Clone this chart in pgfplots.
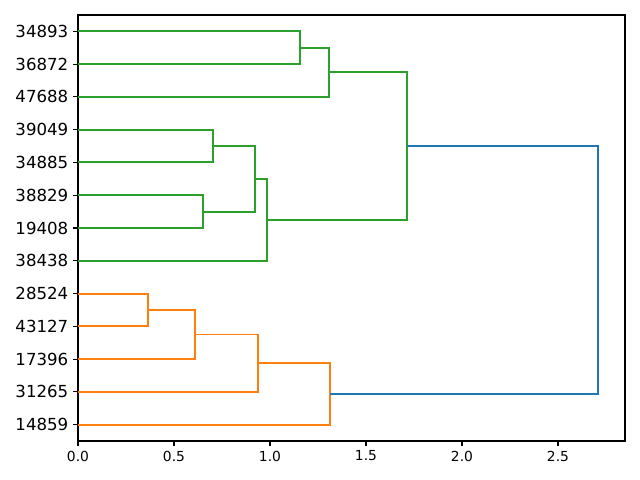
\documentclass[border=0pt]{standalone}
\usepackage{pgfplots}
\pgfplotsset{compat=1.18}
\usepackage{fontspec}
\setmainfont{DejaVu Sans}
\definecolor{cA}{HTML}{1F77B4}
\definecolor{cB}{HTML}{FF7F0E}
\definecolor{cC}{HTML}{2CA02C}
\begin{document}
\begin{tikzpicture}
\path (-0.78in,-0.39in) rectangle (5.62in,4.41in);
\begin{axis}[
  at={(0,0)}, anchor=south west,
  scale only axis, width=5.47in, height=4.26in,
  xmin=0, xmax=2.849, ymin=0, ymax=130,
  axis line style={line width=0.8pt},
  tick style={black, line width=0.8pt},
  tick align=outside, major tick length=3.5pt,
  xtick pos=bottom, ytick pos=left,
  xtick={0,0.5,1,1.5,2,2.5},
  xticklabel style={font=\fontsize{10}{12}\selectfont},
  /pgf/number format/.cd, fixed, fixed zerofill, precision=1, assume math mode=true,
  /pgfplots/.cd,
  ytick={5,15,25,35,45,55,65,75,85,95,105,115,125},
  yticklabels={14859,31265,17396,43127,28524,38438,19408,38829,34885,39049,47688,36872,34893},
  yticklabel style={font=\fontsize{12}{14}\selectfont},
  every axis plot/.append style={line width=1.4pt, no marks},
]
% orange cluster
\addplot[cB] coordinates {(0,45) (0.365,45) (0.365,35) (0,35)};
\addplot[cB] coordinates {(0.365,40) (0.609,40) (0.609,25) (0,25)};
\addplot[cB] coordinates {(0.609,32.5) (0.9375,32.5) (0.9375,15) (0,15)};
\addplot[cB] coordinates {(0.9375,23.75) (1.3125,23.75) (1.3125,5) (0,5)};
% green cluster
\addplot[cC] coordinates {(0,125) (1.156,125) (1.156,115) (0,115)};
\addplot[cC] coordinates {(1.156,120) (1.307,120) (1.307,105) (0,105)};
\addplot[cC] coordinates {(0,95) (0.703,95) (0.703,85) (0,85)};
\addplot[cC] coordinates {(0,75) (0.651,75) (0.651,65) (0,65)};
\addplot[cC] coordinates {(0.703,90) (0.922,90) (0.922,70) (0.651,70)};
\addplot[cC] coordinates {(0.922,80) (0.984,80) (0.984,55) (0,55)};
\addplot[cC] coordinates {(1.307,112.5) (1.714,112.5) (1.714,67.5) (0.984,67.5)};
% top
\addplot[cA] coordinates {(1.714,90) (2.708,90) (2.708,14.375) (1.3125,14.375)};
\end{axis}
\end{tikzpicture}
\end{document}
